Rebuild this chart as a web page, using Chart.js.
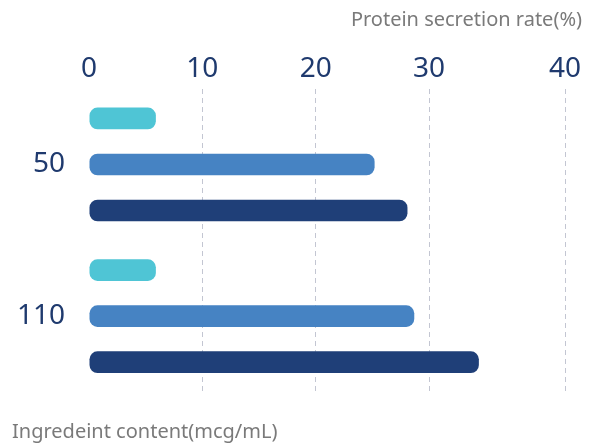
<!DOCTYPE html>
<html>
<head>
<meta charset="utf-8">
<script src="https://cdn.jsdelivr.net/npm/chart.js@4"></script>
<style>
  html, body { margin: 0; padding: 0; background: #fff; }
  #wrap { width: 597px; height: 445px; }
</style>
</head>
<body>
<div id="wrap"><canvas id="secretion-chart"></canvas></div>
<script>
const categories = ["50", "110"];
const seriesA = [5.9, 5.9];
const seriesB = [25.2, 28.7];
const seriesC = [28.1, 34.4];
const tickValues = [0, 10, 20, 30, 42];
const tickLabels = ["0", "10", "20", "30", "40"];

const navy = "#1f3a6e";

const secretionCtx = document.getElementById("secretion-chart");

let secretionChart = new Chart(secretionCtx, {
    type: "bar",
    data: {
        labels: categories,
        datasets: [
            {
                label: "Series 1",
                data: seriesA,
                backgroundColor: "#4fc5d5",
            },
            {
                label: "Series 2",
                data: seriesB,
                backgroundColor: "#4683c3",
            },
            {
                label: "Series 3",
                data: seriesC,
                backgroundColor: "#1f3f78",
            },
        ],
    },
    options: {
        indexAxis: "y",
        responsive: true,
        maintainAspectRatio: false,
        animation: false,
        datasets: {
            bar: {
                borderRadius: 8,
                borderSkipped: false,
                barPercentage: 0.47,
                categoryPercentage: 0.91,
            },
        },
        layout: {
            padding: { left: 12, right: 15, top: 0, bottom: 0 },
        },
        plugins: {
            legend: { display: false },
            tooltip: { enabled: false },
            title: {
                display: true,
                text: "Protein secretion rate(%)",
                align: "end",
                color: "#7a7a7a",
                font: { family: "Noto Sans", size: 20, weight: "normal" },
                padding: { top: 8, bottom: 17 },
            },
            subtitle: {
                display: true,
                position: "bottom",
                text: "Ingredeint content(mcg/mL)",
                align: "start",
                color: "#7a7a7a",
                font: { family: "Noto Sans", size: 20, weight: "normal" },
                padding: { top: 28, bottom: 1 },
            },
        },
        scales: {
            x: {
                position: "top",
                min: 0,
                max: 42,
                afterBuildTicks: (scale) => {
                    scale.ticks = tickValues.map((v) => ({ value: v }));
                },
                afterFit: (scale) => {
                    scale.paddingRight = 32;
                },
                ticks: {
                    color: navy,
                    font: { family: "Noto Sans", size: 28 },
                    padding: 3,
                    callback: (value, index) => tickLabels[index],
                },
                grid: {
                    drawTicks: false,
                    lineWidth: 1,
                    color: (ctx) => (ctx.index === 0 ? "rgba(0,0,0,0)" : "#c3c6d2"),
                },
                border: { display: false, dash: [5, 4] },
            },
            y: {
                afterFit: (scale) => {
                    scale.width = 77;
                },
                ticks: {
                    color: navy,
                    font: { family: "Noto Sans", size: 28 },
                    padding: 24,
                },
                grid: { display: false, drawTicks: false },
                border: { display: false },
            },
        },
    },
});
</script>
</body>
</html>
